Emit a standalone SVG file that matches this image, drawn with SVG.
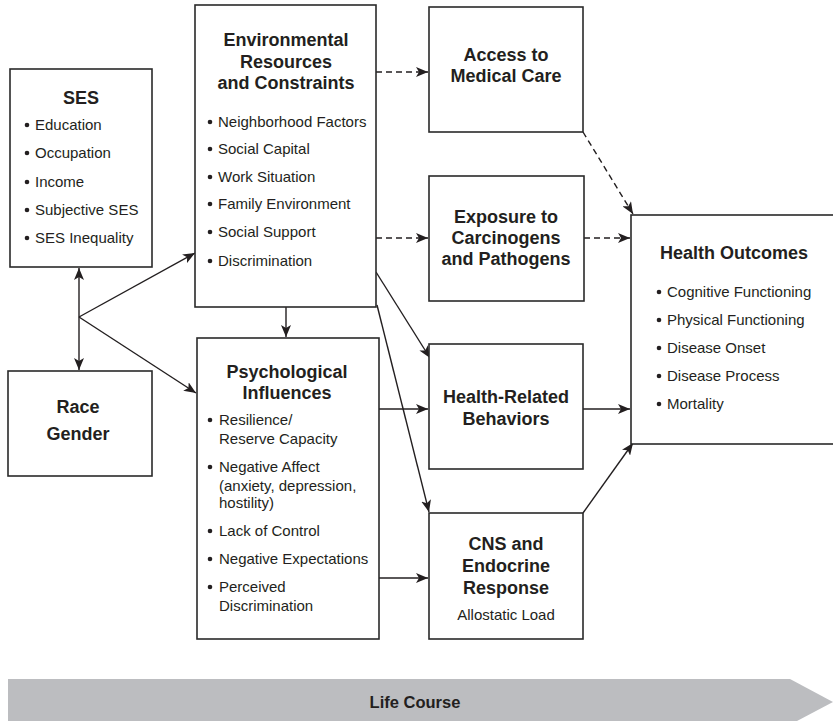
<svg xmlns="http://www.w3.org/2000/svg" width="833" height="721" viewBox="0 0 833 721">
<style>
.box{fill:#fff;stroke:#2a2a2a;stroke-width:1.6}
.t{font-family:"Liberation Sans",Arial,sans-serif;font-weight:bold;font-size:18px;fill:#231f20;text-anchor:middle}
.b{font-family:"Liberation Sans",Arial,sans-serif;font-size:15px;fill:#231f20}
.c{stroke:#231f20;stroke-width:1.4;fill:none}
.d{stroke-dasharray:6 4}
.dot{fill:#231f20}
</style>
<defs>
<marker id="ah" markerUnits="userSpaceOnUse" markerWidth="12" markerHeight="10" refX="12" refY="5" orient="auto-start-reverse">
<path d="M0,0 L12,5 L0,10 L3,5 z" fill="#231f20"/>
</marker>
<circle id="bl" r="2.3" class="dot"/>
</defs>
<rect width="833" height="721" fill="#fff"/>

<g id="connectors">
<path class="c" d="M79,268 L79,370" marker-start="url(#ah)" marker-end="url(#ah)"/>
<path class="c" d="M79,317 L195,253" marker-end="url(#ah)"/>
<path class="c" d="M79,317 L196,393" marker-end="url(#ah)"/>
<path class="c" d="M286,307 L286,337" marker-end="url(#ah)"/>
<path class="c d" d="M376,72 L428,72" marker-end="url(#ah)"/>
<path class="c d" d="M376,238 L428,238" marker-end="url(#ah)"/>
<path class="c d" d="M584,238 L630,238" marker-end="url(#ah)"/>
<path class="c d" d="M583,132 L633,214" marker-end="url(#ah)"/>
<path class="c" d="M376,272 L430,358" marker-end="url(#ah)"/>
<path class="c" d="M377,305 L429,512" marker-end="url(#ah)"/>
<path class="c" d="M379,409 L428,409" marker-end="url(#ah)"/>
<path class="c" d="M379,578 L428,578" marker-end="url(#ah)"/>
<path class="c" d="M583,409 L630,409" marker-end="url(#ah)"/>
<path class="c" d="M583,513 L633,443" marker-end="url(#ah)"/>
</g>

<g id="ses">
<rect class="box" x="10" y="69" width="142" height="198"/>
<text class="t" x="81" y="104">SES</text>
<use href="#bl" x="27" y="125"/><text class="b" x="35" y="130">Education</text>
<use href="#bl" x="27" y="153"/><text class="b" x="35" y="158">Occupation</text>
<use href="#bl" x="27" y="182"/><text class="b" x="35" y="187">Income</text>
<use href="#bl" x="27" y="210"/><text class="b" x="35" y="215">Subjective SES</text>
<use href="#bl" x="27" y="238"/><text class="b" x="35" y="243">SES Inequality</text>
</g>

<g id="race">
<rect class="box" x="8" y="371" width="144" height="105"/>
<text class="t" x="78" y="413">Race</text>
<text class="t" x="78" y="440">Gender</text>
</g>

<g id="env">
<rect class="box" x="195" y="5" width="181" height="302"/>
<text class="t" x="286" y="46">Environmental</text>
<text class="t" x="286" y="68">Resources</text>
<text class="t" x="286" y="89">and Constraints</text>
<use href="#bl" x="210" y="122"/><text class="b" x="218" y="127">Neighborhood Factors</text>
<use href="#bl" x="210" y="149"/><text class="b" x="218" y="154">Social Capital</text>
<use href="#bl" x="210" y="177"/><text class="b" x="218" y="182">Work Situation</text>
<use href="#bl" x="210" y="204"/><text class="b" x="218" y="209">Family Environment</text>
<use href="#bl" x="210" y="232"/><text class="b" x="218" y="237">Social Support</text>
<use href="#bl" x="210" y="261"/><text class="b" x="218" y="266">Discrimination</text>
</g>

<g id="psych">
<rect class="box" x="197" y="338" width="182" height="301"/>
<text class="t" x="287" y="378">Psychological</text>
<text class="t" x="287" y="399">Influences</text>
<use href="#bl" x="210" y="420"/><text class="b" x="219" y="425">Resilience/</text>
<text class="b" x="219" y="444">Reserve Capacity</text>
<use href="#bl" x="210" y="467"/><text class="b" x="219" y="472">Negative Affect</text>
<text class="b" x="219" y="491">(anxiety, depression,</text>
<text class="b" x="219" y="508">hostility)</text>
<use href="#bl" x="210" y="531"/><text class="b" x="219" y="536">Lack of Control</text>
<use href="#bl" x="210" y="559"/><text class="b" x="219" y="564">Negative Expectations</text>
<use href="#bl" x="210" y="587"/><text class="b" x="219" y="592">Perceived</text>
<text class="b" x="219" y="611">Discrimination</text>
</g>

<g id="access">
<rect class="box" x="429" y="7" width="154" height="125"/>
<text class="t" x="506" y="61">Access to</text>
<text class="t" x="506" y="82">Medical Care</text>
</g>

<g id="exposure">
<rect class="box" x="429" y="176" width="155" height="125"/>
<text class="t" x="506" y="223">Exposure to</text>
<text class="t" x="506" y="244">Carcinogens</text>
<text class="t" x="506" y="265">and Pathogens</text>
</g>

<g id="behaviors">
<rect class="box" x="429" y="344" width="154" height="125"/>
<text class="t" x="506" y="403">Health-Related</text>
<text class="t" x="506" y="425">Behaviors</text>
</g>

<g id="cns">
<rect class="box" x="429" y="513" width="154" height="126"/>
<text class="t" x="506" y="550">CNS and</text>
<text class="t" x="506" y="572">Endocrine</text>
<text class="t" x="506" y="594">Response</text>
<text class="b" x="506" y="620" text-anchor="middle">Allostatic Load</text>
</g>

<g id="outcomes">
<rect class="box" x="631" y="215" width="215" height="229"/>
<text class="t" x="734" y="259">Health Outcomes</text>
<use href="#bl" x="659" y="292"/><text class="b" x="667" y="297">Cognitive Functioning</text>
<use href="#bl" x="659" y="320"/><text class="b" x="667" y="325">Physical Functioning</text>
<use href="#bl" x="659" y="348"/><text class="b" x="667" y="353">Disease Onset</text>
<use href="#bl" x="659" y="376"/><text class="b" x="667" y="381">Disease Process</text>
<use href="#bl" x="659" y="404"/><text class="b" x="667" y="409">Mortality</text>
</g>

<g id="lifecourse">
<polygon points="8,679 790,679 833,702 797,721 8,721" fill="#bcbdc0"/>
<text class="t" x="415" y="708" style="font-size:16.5px">Life Course</text>
</g>
</svg>
